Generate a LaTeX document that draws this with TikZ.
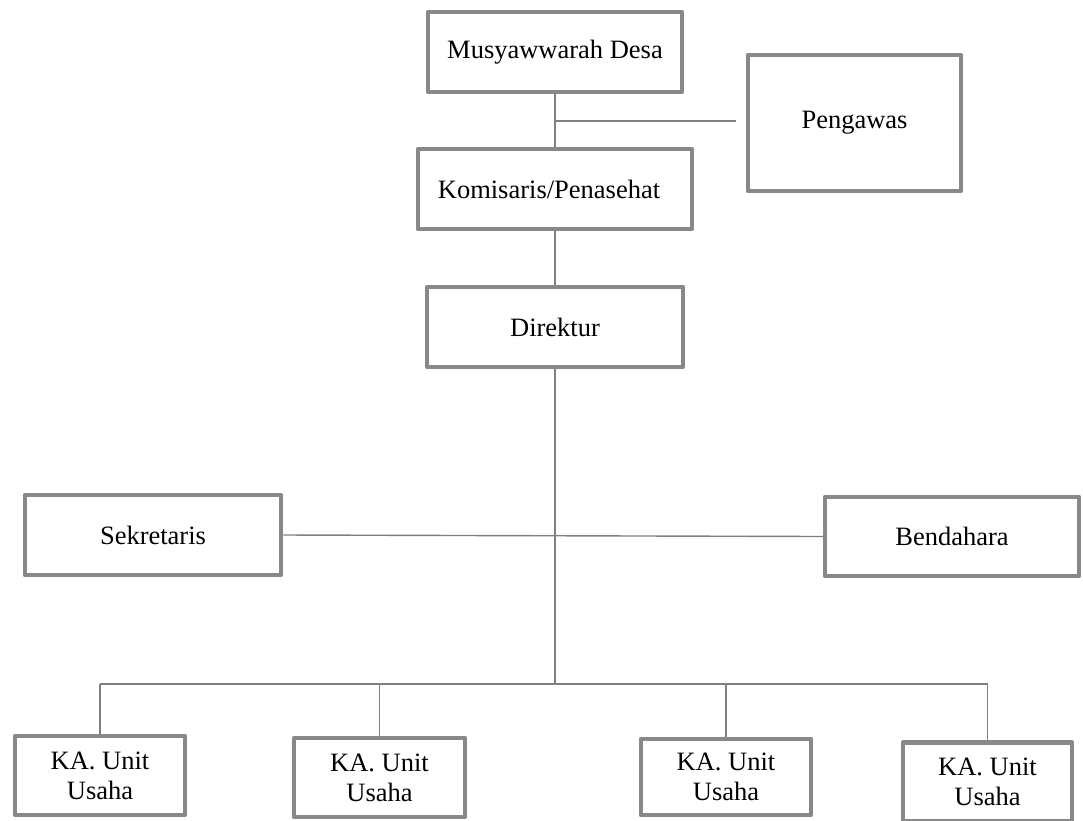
\documentclass[tikz,border=0pt]{standalone}
\usepackage{fontspec}
\setmainfont{Liberation Serif}
\definecolor{boxgray}{HTML}{888888}
\definecolor{linegray}{HTML}{808080}
\begin{document}
\begin{tikzpicture}[x=1pt,y=-1pt,
  orgbox/.style={draw=boxgray, line width=4.5pt, line join=round, fill=white, inner sep=0pt,
    align=center, font=\fontsize{26.5}{30}\selectfont},
  conn/.style={draw=linegray, line width=1.4pt}]
\useasboundingbox (0,0) rectangle (1083,820);
% boxes (outer size minus border width)
\node[orgbox, minimum width=254pt, minimum height=80pt] (mus) at (555,52) {Musyawwarah Desa};
\node[orgbox, minimum width=213pt, minimum height=136pt] (peng) at (854.5,123) {Pengawas};
\node[orgbox, minimum width=274pt, minimum height=80pt] (kom) at (555,189) {\hspace*{-12pt}Komisaris/Penasehat};
\node[orgbox, minimum width=256pt, minimum height=80pt] (dir) at (555,327) {Direktur};
\node[orgbox, minimum width=256pt, minimum height=80pt] (sek) at (153,535) {Sekretaris};
\node[orgbox, minimum width=254pt, minimum height=79pt] (ben) at (952,536.5) {Bendahara};
\node[orgbox, minimum width=170pt, minimum height=79pt] (ka1) at (100,775.5) {KA. Unit\\Usaha};
\node[orgbox, minimum width=171pt, minimum height=79pt] (ka2) at (379.5,777.5) {KA. Unit\\Usaha};
\node[orgbox, minimum width=170pt, minimum height=76pt] (ka3) at (726,777) {KA. Unit\\Usaha};
\node[orgbox, minimum width=169pt, minimum height=79pt] (ka4) at (987.5,782) {KA. Unit\\Usaha};
% coordinates
\coordinate (pj) at (555,121);
\coordinate (pe) at (736,121);
\coordinate (busL) at (100,684);
\coordinate (busR) at (987.5,684);
% connectors
\draw[conn] (mus.south) -- (kom.north);
\draw[conn] (pj) -- (pe);
\draw[conn] (kom.south) -- (dir.north);
\draw[conn] (dir.south) -- (dir.south |- busL);
\draw[conn] (sek.east) -- (ben.west);
\draw[conn] (busL) -- (busR);
\draw[conn] (busL) -- (ka1.north);
\draw[conn] (ka2.north |- busL) -- (ka2.north);
\draw[conn] (ka3.north |- busL) -- (ka3.north);
\draw[conn] (busR) -- (ka4.north);
\end{tikzpicture}
\end{document}
